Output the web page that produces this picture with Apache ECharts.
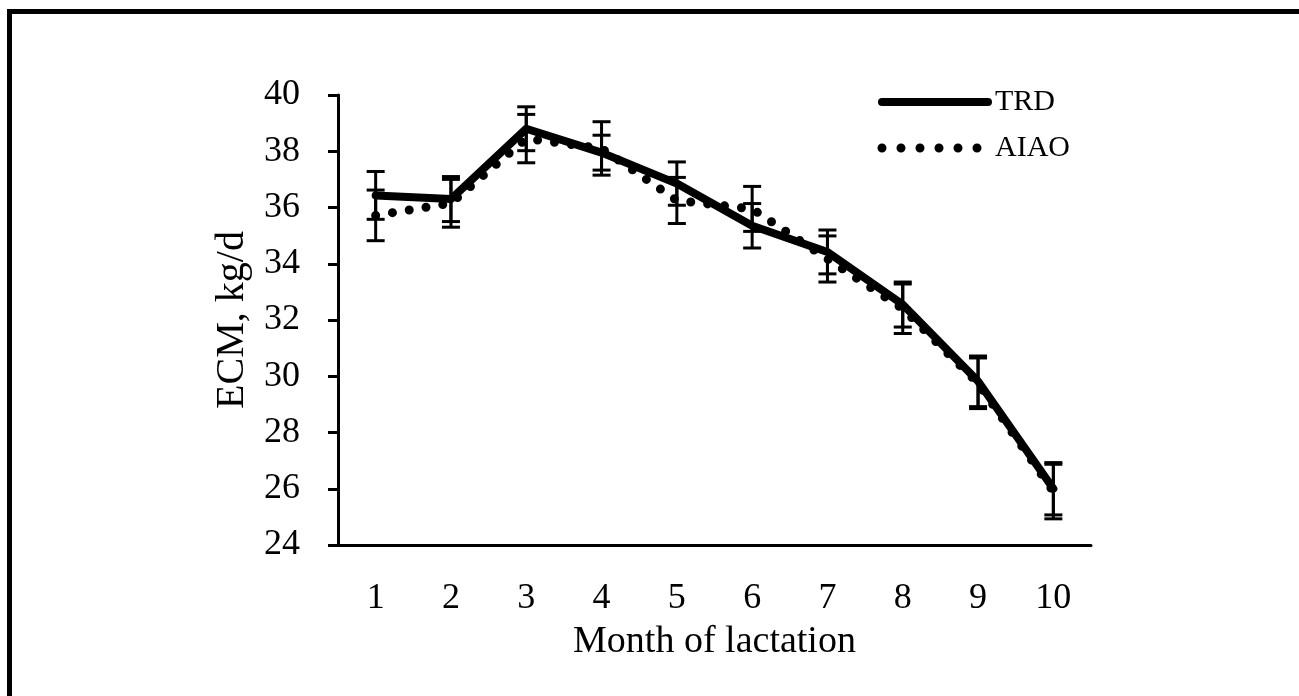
<!DOCTYPE html>
<html>
<head>
<meta charset="utf-8">
<script src="https://cdn.jsdelivr.net/npm/echarts@6/dist/echarts.min.js"></script>
<style>
  html, body { margin: 0; padding: 0; background: #fff; }
  #chart { width: 1299px; height: 696px; }
</style>
</head>
<body>
<div id="chart"></div>
<script>
// months of lactation
const months = ['1', '2', '3', '4', '5', '6', '7', '8', '9', '10']
// ECM means, kg/d
const trdMean = [36.43, 36.3, 38.8, 37.95, 36.85, 35.35, 34.42, 32.55, 29.82, 26.0]
const aiaoMean = [35.72, 36.15, 38.45, 38.1, 36.25, 35.95, 34.17, 32.4, 29.75, 25.9]
// standard errors
const trdSe = [0.85, 0.8, 0.78, 0.62, 0.77, 0.79, 0.78, 0.8, 0.9, 0.93]
const aiaoSe = [0.9, 0.85, 0.86, 0.95, 0.82, 0.8, 0.82, 0.88, 0.9, 0.97]
const yTicks = { min: 24, max: 40, interval: 2 }

const FONT = '"Liberation Serif", "Times New Roman", serif'

function errorBars(name, means, ses) {
  return {
    name,
    type: 'custom',
    z: 1,
    silent: true,
    data: means.map((m, i) => [i, m - ses[i], m + ses[i]]),
    renderItem: (params, api) => {
      const lo = api.coord([api.value(0), api.value(1)])
      const hi = api.coord([api.value(0), api.value(2)])
      const hw = 9
      const style = { stroke: '#000', lineWidth: 3 }
      return {
        type: 'group',
        children: [
          { type: 'line', shape: { x1: lo[0], y1: lo[1], x2: hi[0], y2: hi[1] }, style },
          { type: 'line', shape: { x1: lo[0] - hw, y1: lo[1], x2: lo[0] + hw, y2: lo[1] }, style },
          { type: 'line', shape: { x1: hi[0] - hw, y1: hi[1], x2: hi[0] + hw, y2: hi[1] }, style },
        ],
      }
    },
  }
}

// legend drawn by hand so the keys look like the original
const legendKeys = [
  { type: 'line', shape: { x1: 882, y1: 102, x2: 988, y2: 102 }, style: { stroke: '#000', lineWidth: 8, lineCap: 'round' } },
  { type: 'text', left: 995, top: 87, style: { text: 'TRD', font: '30px ' + FONT, fill: '#000' } },
  { type: 'line', shape: { x1: 882, y1: 148, x2: 978, y2: 148 }, style: { stroke: '#000', lineWidth: 9, lineCap: 'round', lineDash: [0, 19] } },
  { type: 'text', left: 995, top: 133, style: { text: 'AIAO', font: '30px ' + FONT, fill: '#000' } },
]

const chart = echarts.init(document.getElementById('chart'))
chart.setOption({
  animation: false,
  backgroundColor: '#fff',
  textStyle: { fontFamily: FONT, color: '#000' },
  grid: { left: 338, right: 208, top: 95, bottom: 151, containLabel: false },
  xAxis: {
    type: 'category',
    data: months,
    boundaryGap: true,
    axisLine: { lineStyle: { color: '#000', width: 3 } },
    axisTick: { show: false },
    axisLabel: { fontFamily: FONT, fontSize: 36, color: '#000', margin: 36 },
    name: 'Month of lactation',
    nameLocation: 'middle',
    nameGap: 78,
    nameTextStyle: { fontFamily: FONT, fontSize: 38, color: '#000' },
    splitLine: { show: false },
  },
  yAxis: {
    type: 'value',
    min: yTicks.min,
    max: yTicks.max,
    interval: yTicks.interval,
    axisLine: { show: true, lineStyle: { color: '#000', width: 3 } },
    axisTick: { show: true, inside: false, length: 10, lineStyle: { color: '#000', width: 3 } },
    axisLabel: { fontFamily: FONT, fontSize: 36, color: '#000', margin: 38 },
    splitLine: { show: false },
    name: 'ECM, kg/d',
    nameLocation: 'middle',
    nameGap: 86,
    nameRotate: 90,
    nameTextStyle: { fontFamily: FONT, fontSize: 40, color: '#000' },
  },
  graphic: [
    { type: 'line', shape: { x1: 7, y1: 11.5, x2: 1299, y2: 11.5 }, style: { stroke: '#000', lineWidth: 5 } },
    { type: 'line', shape: { x1: 9.5, y1: 9, x2: 9.5, y2: 696 }, style: { stroke: '#000', lineWidth: 5 } },
    ...legendKeys,
  ],
  series: [
    errorBars('TRD SE', trdMean, trdSe),
    errorBars('AIAO SE', aiaoMean, aiaoSe),
    {
      name: 'AIAO',
      type: 'line',
      data: aiaoMean,
      symbol: 'none',
      z: 2,
      lineStyle: { color: '#000', width: 9, type: [0, 17], cap: 'round' },
      itemStyle: { color: '#000' },
    },
    {
      name: 'TRD',
      type: 'line',
      data: trdMean,
      symbol: 'none',
      z: 3,
      lineStyle: { color: '#000', width: 8, cap: 'round', join: 'round' },
      itemStyle: { color: '#000' },
    },
  ],
})
</script>
</body>
</html>
